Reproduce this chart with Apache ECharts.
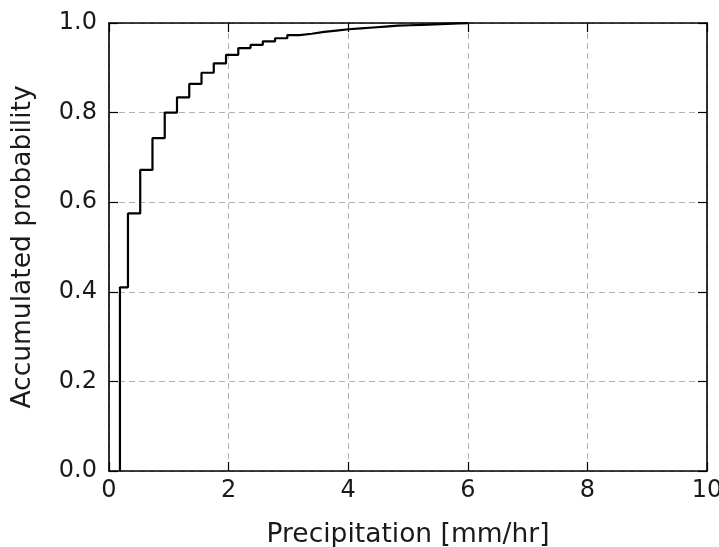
<!DOCTYPE html>
<html>
<head>
<meta charset="utf-8">
<script src="https://cdn.jsdelivr.net/npm/echarts@6/dist/echarts.min.js"></script>
<style>html,body{margin:0;padding:0;background:#fff;}#c{width:719px;height:547px;}</style>
</head>
<body>
<div id="c"></div>
<script>
// Step edges (mm/hr) and accumulated probability after each edge
const edges = [0.183, 0.317, 0.522, 0.727, 0.932, 1.137, 1.342, 1.547, 1.752, 1.957, 2.162, 2.367, 2.572, 2.777, 2.982, 3.187, 3.392, 3.597, 3.802, 4.007, 4.212, 4.417, 4.622, 4.827, 5.032, 5.237, 5.442, 5.647, 5.852, 6.0];
const levels = [0.41, 0.575, 0.672, 0.743, 0.800, 0.834, 0.864, 0.889, 0.910, 0.929, 0.944, 0.951, 0.959, 0.966, 0.973, 0.976, 0.980, 0.983, 0.986, 0.988, 0.990, 0.992, 0.994, 0.995, 0.996, 0.997, 0.998, 0.999, 0.9995, 1.0];
const xTicks = [0, 2, 4, 6, 8, 10];
const yTicks = [0.0, 0.2, 0.4, 0.6, 0.8, 1.0];
const xName = 'Precipitation [mm/hr]';
const yName = 'Accumulated probability';

const pts = [[edges[0], 0]];
for (let i = 0; i < edges.length; i++) pts.push([edges[i], levels[i]]);

const font = 'DejaVu Sans';
const fs = 24;
const nfs = 26.5;
const frame = {show: true, onZero: false, lineStyle: {color: '#000', width: 1.6}};
const tickStyle = {show: true, inside: true, length: 9, lineStyle: {color: '#000', width: 1.2}};
const gridStyle = {show: true, lineStyle: {color: '#b0b0b0', type: [6, 4], width: 1}};

const chart = echarts.init(document.getElementById('c'), null, {renderer: 'canvas'});
chart.setOption({
  animation: false,
  backgroundColor: '#fff',
  grid: {left: 109, right: 12, top: 23, bottom: 76, show: false, containLabel: false, outerBoundsMode: 'none'},
  xAxis: [{
    type: 'value', min: xTicks[0], max: xTicks[xTicks.length - 1], interval: 2,
    name: xName, nameLocation: 'middle', nameGap: 51,
    nameTextStyle: {fontFamily: font, fontSize: nfs, color: '#1a1a1a'},
    axisLine: frame,
    axisTick: tickStyle,
    axisLabel: {fontFamily: font, fontSize: fs, color: '#1a1a1a', margin: 8},
    splitLine: gridStyle
  }, {
    type: 'value', position: 'top', min: 0, max: 10, interval: 2,
    axisLine: frame, axisTick: tickStyle, axisLabel: {show: false}, splitLine: {show: false}
  }],
  yAxis: [{
    type: 'value', min: yTicks[0], max: yTicks[yTicks.length - 1], interval: 0.2,
    name: yName, nameLocation: 'middle', nameGap: 72, nameRotate: 90,
    nameTextStyle: {fontFamily: font, fontSize: nfs, color: '#1a1a1a'},
    axisLine: frame,
    axisTick: tickStyle,
    axisLabel: {fontFamily: font, fontSize: fs, color: '#1a1a1a', margin: 12, formatter: v => v.toFixed(1)},
    splitLine: gridStyle
  }, {
    type: 'value', position: 'right', min: 0, max: 1, interval: 0.2,
    axisLine: frame, axisTick: tickStyle, axisLabel: {show: false}, splitLine: {show: false}
  }],
  series: [{
    type: 'line', step: 'end', data: pts, showSymbol: false, symbol: 'none',
    lineStyle: {color: '#000', width: 2.2}, clip: false, z: 5
  }]
});
</script>
</body>
</html>
